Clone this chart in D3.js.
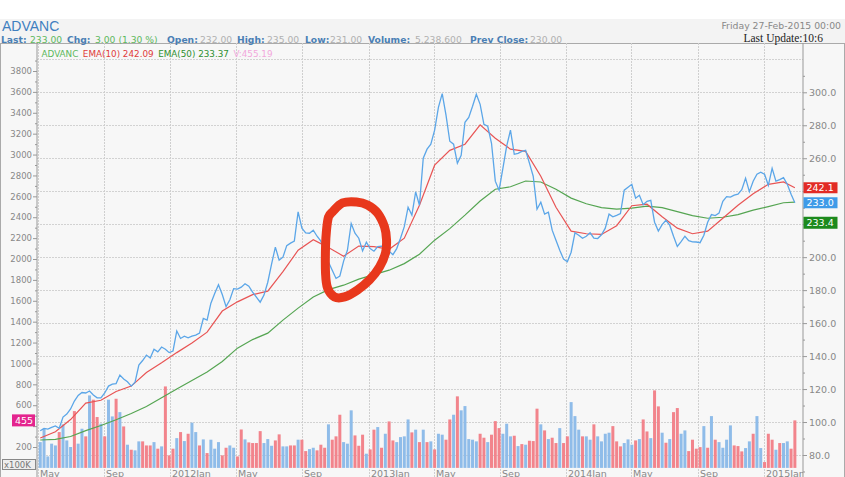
<!DOCTYPE html>
<html><head><meta charset="utf-8">
<script src="https://cdn.jsdelivr.net/npm/d3@7"></script>
<style>body{margin:0;background:#fff;} svg{display:block;font-family:"DejaVu Sans",sans-serif;}</style>
</head><body><svg id="c" width="845" height="477"></svg>
<script>
// ---------------- DATA ----------------
const symbol = "ADVANC";
const firstWeek = new Date(2011, 4, 6); // weekly bars, Fridays
// weekly closing price (right axis)
const price = [
 94.7, 96.1, 95.7, 96.7, 97.6, 96.2,103.0,104.8,107.9,112.7,
116.1,117.9,117.6,118.8,116.4,114.7,114.7,117.6,121.8,123.0,
123.3,128.5,126.1,124.4,121.8,124.2,134.5,137.3,140.6,138.8,
144.2,142.6,145.5,144.2,142.1,143.0,155.2,150.7,152.1,151.1,
152.1,152.7,153.9,162.8,161.8,172.1,177.9,183.3,177.3,170.0,
174.2,180.9,180.6,181.8,183.9,182.4,178.8,175.8,172.7,177.0,
184.8,195.8,206.1,198.2,200.0,207.0,208.5,209.7,227.5,217.6,
214.7,214.5,216.4,212.7,209.7,203.2,197.0,192.1,187.1,188.5,
197.6,204.2,220.4,214.5,211.5,203.8,209.1,205.2,203.6,206.4,
206.7,205.5,203.6,201.5,205.2,211.5,218.5,230.3,225.5,239.6,
231.5,260.0,265.5,268.5,277.0,290.9,299.2,286.1,270.3,268.5,
257.0,261.8,281.8,284.8,291.5,298.8,292.7,280.6,279.4,269.1,
246.1,240.6,253.9,267.3,277.0,262.4,263.0,264.2,264.8,257.0,
249.1,229.1,233.3,226.1,227.3,216.4,210.3,204.2,198.8,197.2,
203.0,214.8,213.3,211.5,212.7,214.8,211.5,211.3,213.6,217.6,
226.1,224.5,225.3,226.4,240.6,242.4,244.2,235.8,237.6,231.8,
233.9,234.5,221.2,215.8,219.7,222.4,219.4,212.7,206.5,209.4,
212.7,210.0,209.3,209.2,208.8,213.3,221.2,225.8,225.2,226.7,
233.9,236.7,236.4,237.6,238.2,240.9,247.9,239.7,246.1,250.3,
251.5,250.3,243.6,253.9,246.1,247.0,248.2,244.2,238.2,233.0];
// EMA readings every 4th week (+ last week)
const emaWeekIndex = [0,4,8,12,16,20,24,28,32,36,40,44,48,52,56,60,64,68,72,76,80,84,88,92,96,100,104,108,112,116,120,124,128,132,136,140,144,148,152,156,160,164,168,172,176,180,184,188,192,196,199];
const ema10 = [
 90.3, 94.1,101.5,111.5,113.2,118.5,121.8,130.0,135.9,142.1,
147.9,154.5,167.3,172.9,177.3,179.4,191.2,204.2,210.6,205.8,
200.6,206.7,206.4,204.8,211.5,231.5,255.8,264.8,268.5,280.3,
272.1,265.5,264.2,249.1,230.3,215.8,214.2,213.8,219.1,231.2,
232.1,224.5,217.6,214.2,215.8,223.6,231.5,238.5,244.2,245.6,
242.1];
const ema50 = [
 89.1, 89.5, 91.2, 94.8, 97.9,101.4,105.2,109.4,114.7,120.0,
125.2,130.3,136.7,144.8,150.0,153.9,161.8,169.1,175.8,180.3,
183.0,186.7,189.4,192.1,196.1,201.8,210.3,217.3,225.5,234.1,
241.2,242.7,246.2,245.6,241.2,235.8,232.4,230.1,229.1,229.7,
230.9,230.0,227.6,225.2,223.6,224.2,225.8,228.5,230.7,233.0,
233.4];
// weekly volume (x100K shares, left axis)
const volume = [
247,375,110,232,215,343,417,263,200,544,
232,375,302,694,653,487,423,302,653,493,
662,534,397,222,174,168,254,254,215,215,
247,184,206,780,120,184,285,343,257,327,
433,343,215,273,142,270,184,247,120,193,
215,193,110,368,273,244,238,238,352,238,
276,212,263,321,206,206,215,215,270,270,
161,180,193,168,222,193,417,270,302,509,
247,232,551,311,212,318,136,177,366,391,
193,327,445,263,247,295,302,464,340,366,
247,366,247,254,177,327,318,270,464,509,
685,551,592,276,270,254,327,289,247,318,
448,381,327,423,302,308,209,228,222,260,
257,567,417,359,276,289,238,381,238,302,
630,496,366,302,302,270,417,302,254,327,
337,400,254,206,238,273,222,263,276,464,
349,285,742,589,337,241,276,534,573,327,
359,161,270,184,199,400,193,496,270,247,
193,270,407,215,209,158,190,254,327,496,
190, 56,327,270,174,238,238,254,184,455];
// bar direction: b = up week, r = down week
const volDir =
 "bbbbbrbbbr"+"bbrbrrbrbb"+"rbrbrbbrrr"+"brbrrrbrbr"+"bbrbrbbbrr"+
 "bbrrbrrrrb"+"bbrrbbrrbr"+"rbbrrrbrrr"+"bbbrrrbrrb"+"rbrrbbbbrb"+
 "rbrbrbbrrb"+"rbbbbbrrbr"+"rrbbbrbrbr"+"rrbrbrrbrr"+"bbbrbbrbbb"+
 "brrrbbbrbr"+"rbrrbrbrrb"+"brrrrbrbrb"+"bbbrrrbbrb"+"brrrbrbbrr";
const priceTicks = d3.range(80, 301, 20);
const volTicks = d3.range(200, 3801, 200);
const quote = [["Last:","l"],["233.00","g"],["Chg:","l"],["3.00 (1.30 %)","g"],["Open:","l"],["232.00","v"],
  ["High:","l"],["235.00","v"],["Low:","l"],["231.00","v"],["Volume:","l"],["5,238,600","v"],["Prev Close:","l"],["230.00","v"]];
const quoteX = [1,30,67,95,167,200,237,267,305,330,368,415,470,530];
const legendItems = [[symbol,"#5cb85c"],["EMA(10) 242.09","#e03a3a"],["EMA(50) 233.37","#2f8f2f"],["V:455.19","#f2a8dc"]];

// ---------------- LAYOUT ----------------
const W=845,H=477, PL=37, PR=803, PT=43, PB=467;
const svg=d3.select("#c");
svg.append("rect").attr("width",W).attr("height",H).attr("fill","#fff");
svg.append("rect").attr("x",0).attr("y",19).attr("width",W).attr("height",24).attr("fill","#f3f3f3");
svg.append("rect").attr("x",0.5).attr("y",43.5).attr("width",W-1).attr("height",H-43).attr("fill","#f7f7f7").attr("stroke","#aaa");

const dates = volume.map((_,i)=>d3.timeDay.offset(firstWeek, 7*i));
const x = d3.scaleTime().domain([new Date(2011,3,30), new Date(2015,2,14)]).range([PL,PR]);
const yP = d3.scaleLinear().domain([80,300]).range([455,92.3]);
const yV = d3.scaleLinear().domain([0,3800]).range([467.9,71]);

const defs = svg.append("defs");
defs.append("clipPath").attr("id","plot").append("rect").attr("x",PL).attr("y",PT).attr("width",PR-PL).attr("height",PB-PT+1);
defs.append("clipPath").attr("id","xl").append("rect").attr("x",PL).attr("y",PB).attr("width",PR-PL).attr("height",H-PB);

// grid
const grid = svg.append("g");
grid.selectAll(".hg").data(d3.range(80,321,20)).join("line")
  .attr("x1",PL).attr("x2",PR).attr("y1",d=>Math.round(yP(d))+0.5).attr("y2",d=>Math.round(yP(d))+0.5)
  .attr("stroke","#d2d2d2").attr("stroke-dasharray","2,1");
const months = x.ticks(d3.timeMonth.every(4));
grid.selectAll(".vg").data(months).join("line")
  .attr("x1",d=>Math.round(x(d))+0.5).attr("x2",d=>Math.round(x(d))+0.5).attr("y1",PT).attr("y2",H)
  .attr("stroke","#cfcfcf").attr("stroke-dasharray","2,1");

const plot = svg.append("g").attr("clip-path","url(#plot)");
// volume bars
plot.selectAll(".bar").data(volume).join("rect")
  .attr("x",(d,i)=>x(dates[i])-1.5).attr("width",3)
  .attr("y",d=>yV(d)).attr("height",d=>yV(0)-yV(d))
  .attr("fill",(d,i)=>volDir[i]==="r"?"#f2848c":"#8fbce9");

// lines
const ln = d3.line().x(d=>d[0]).y(d=>d[1]);
plot.append("path").attr("d",ln(emaWeekIndex.map((k,i)=>[x(dates[k]),yP(ema50[i])])))
  .attr("fill","none").attr("stroke","#55a552").attr("stroke-width",1.2);
plot.append("path").attr("d",ln(emaWeekIndex.map((k,i)=>[x(dates[k]),yP(ema10[i])])))
  .attr("fill","none").attr("stroke","#e85454").attr("stroke-width",1.2);
plot.append("path").attr("d",ln(price.map((p,i)=>[x(dates[i]),yP(p)])))
  .attr("fill","none").attr("stroke","#5ba6e8").attr("stroke-width",1.3);

// legend row (chained)
const lg = svg.append("g").attr("font-size",8.8);
let lx = 41.5;
legendItems.forEach(([t,c])=>{
  const el = lg.append("text").attr("x",lx).attr("y",57).attr("fill",c).text(t);
  lx += el.node().getComputedTextLength() + 4.5;
});

// left axis (volume)
const la = svg.append("g").attr("transform",`translate(${PL},0)`)
  .call(d3.axisLeft(yV).tickValues(volTicks).tickSize(4).tickPadding(1).tickFormat(d3.format("d")));
svg.append("g").attr("transform",`translate(${PL},0)`)
  .call(d3.axisLeft(yV).tickValues(d3.range(300,3901,200)).tickSize(2).tickFormat(""))
  .call(g=>g.select(".domain").remove());
svg.selectAll(".tick line").attr("stroke","#999");
la.select(".domain").attr("stroke","#999").attr("d",`M0,${PT}V${H}`);
la.selectAll("text").attr("font-family","DejaVu Sans").attr("font-size",8.5).attr("fill","#888");

// right axis (price)
const ra = svg.append("g").attr("transform",`translate(${PR},0)`)
  .call(d3.axisRight(yP).tickValues(priceTicks).tickSize(4).tickPadding(2).tickFormat(d3.format(".1f")));
svg.append("g").attr("transform",`translate(${PR},0)`)
  .call(d3.axisRight(yP).tickValues(d3.range(70,311,20)).tickSize(2).tickFormat(""))
  .call(g=>g.select(".domain").remove())
  .selectAll("line").attr("stroke","#999");
ra.select(".domain").attr("stroke","#999").attr("d",`M0,${PT}V${H}`);
ra.selectAll("line").attr("stroke","#999");
ra.selectAll("text").attr("font-family","DejaVu Sans").attr("font-size",9.5).attr("fill","#888");

// x axis labels
const fmt = d => d.getMonth()===0 ? d3.timeFormat("%YJan")(d) : d3.timeFormat("%b")(d);
svg.append("g").attr("clip-path","url(#xl)").selectAll("text").data(months).join("text")
  .attr("x",d=>Math.round(x(d))+2).attr("y",476.5).attr("font-size",9.5).attr("fill","#888").text(fmt);

// value boxes (they cover the axis labels underneath)
const boxes = [];
function box(xx,yc,w,h,col,txt){
  svg.append("rect").attr("x",xx).attr("y",yc-h/2).attr("width",w).attr("height",h).attr("fill",col);
  svg.append("text").attr("x",xx+3).attr("y",yc+3.5).attr("font-size",9.5).attr("fill","#fff").text(txt);
  boxes.push([yc-h/2-4, yc+h/2+4]);
}
const yEma10 = yP(ema10[ema10.length-1]), yLast = yP(price[price.length-1]);
let yEma50 = yP(ema50[ema50.length-1]);
if (Math.abs(yEma50-yLast)<12) yEma50 = yLast+20;
box(PR+0.5,yEma10,34,11,"#e22b25",ema10[ema10.length-1].toFixed(1));
box(PR+0.5,yLast,34,11,"#3f9be8",price[price.length-1].toFixed(1));
box(PR+0.5,yEma50,34,12,"#1d8a1d",ema50[ema50.length-1].toFixed(1));
ra.selectAll(".tick").filter(d=>boxes.some(b=>yP(d)>b[0]&&yP(d)<b[1])).select("text").remove();
const yVolBox = yV(volume[volume.length-1]);
box(12,yVolBox,23,12,"#e4248e",String(volume[volume.length-1]));
la.selectAll(".tick").filter(d=>Math.abs(yV(d)-yVolBox)<10).select("text").remove();
svg.append("rect").attr("x",2.5).attr("y",459.5).attr("width",33).attr("height",10).attr("fill","#eee").attr("stroke","#888");
svg.append("text").attr("x",4).attr("y",468).attr("font-size",8.5).attr("fill","#777").text("x100K");

// header
svg.append("text").attr("x",2).attr("y",31).attr("font-family","Liberation Sans, Arial, sans-serif")
  .attr("font-size",14).attr("fill","#3f7fbf").text(symbol);
const qcol = {l:"#4a7fb5", g:"#5cb85c", v:"#b0b0b0"};
svg.append("g").selectAll("text").data(quote).join("text")
  .attr("x",(d,i)=>quoteX[i]).attr("y",43).attr("font-size",9.2)
  .attr("font-weight",d=>d[1]==="l"?"bold":"normal").attr("fill",d=>qcol[d[1]]).text(d=>d[0]);
svg.append("text").attr("x",841).attr("y",29).attr("text-anchor","end").attr("font-size",9.3).attr("fill","#888")
  .text("Friday 27-Feb-2015 00:00");
svg.append("text").attr("x",823).attr("y",42).attr("text-anchor","end").attr("font-family","Liberation Serif, serif")
  .attr("font-size",11.5).attr("fill","#222").text("Last Update:10:6");

// hand-drawn red circle annotation
const circleAnchor = {date:new Date(2012,11,8), price:205};
const circleOffsets = [[-23,-37],[-13,-46],[1,-47],[12,-44],[22,-36],[29,-22],[31,-9],[30,4],[24,18],[14,31],[2,41],[-11,48],[-21,48],[-28,39],[-30,24],[-30,-2],[-29,-19],[-27,-32]];
const cx0 = x(circleAnchor.date), cy0 = yP(circleAnchor.price);
svg.append("path").attr("d",d3.line().curve(d3.curveCardinalClosed)(circleOffsets.map(o=>[cx0+o[0],cy0+o[1]])))
  .attr("fill","none").attr("stroke","#e8381c").attr("stroke-width",9).attr("stroke-linejoin","round");
</script></body></html>
